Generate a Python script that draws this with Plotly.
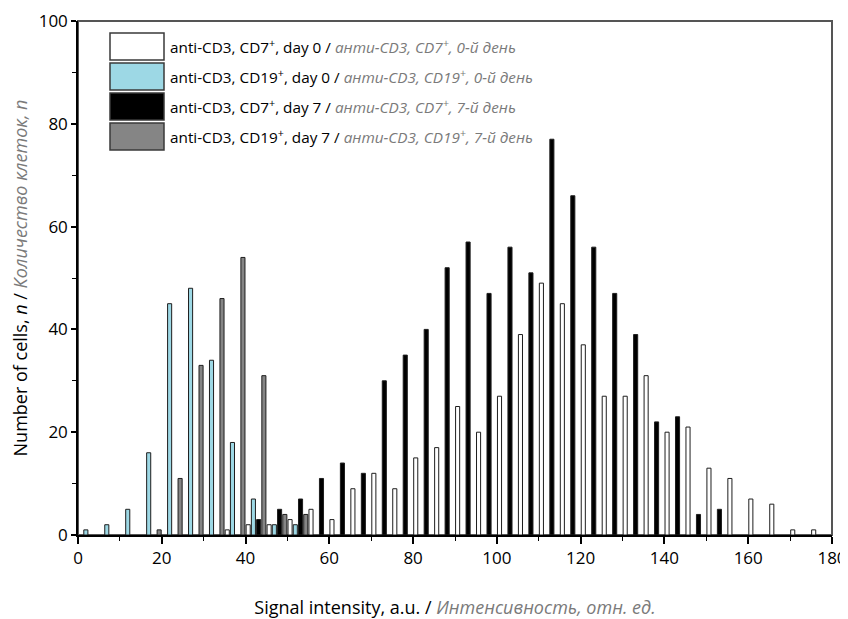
import plotly.graph_objects as go

# Bin centres (signal intensity, a.u.)
bins = [2.5, 7.5, 12.5, 17.5, 22.5, 27.5, 32.5, 37.5, 42.5, 47.5, 52.5, 57.5,
        62.5, 67.5, 72.5, 77.5, 82.5, 87.5, 92.5, 97.5, 102.5, 107.5, 112.5, 117.5,
        122.5, 127.5, 132.5, 137.5, 142.5, 147.5, 152.5, 157.5, 162.5, 167.5, 172.5, 177.5]

# anti-CD3, CD7+, day 0 (white)
cd7_day0 = [0, 0, 0, 0, 0, 0, 0, 1, 2, 2, 3, 5,
            3, 9, 12, 9, 15, 17, 25, 20, 27, 39, 49, 45,
            37, 27, 27, 31, 20, 21, 13, 11, 7, 6, 1, 1]
# anti-CD3, CD19+, day 0 (light blue)
cd19_day0 = [1, 2, 5, 16, 45, 48, 34, 18, 7, 2, 2, 0,
             0, 0, 0, 0, 0, 0, 0, 0, 0, 0, 0, 0,
             0, 0, 0, 0, 0, 0, 0, 0, 0, 0, 0, 0]
# anti-CD3, CD7+, day 7 (black)
cd7_day7 = [0, 0, 0, 0, 0, 0, 0, 0, 3, 5, 7, 11,
            14, 12, 30, 35, 40, 52, 57, 47, 56, 51, 77, 66,
            56, 47, 39, 22, 23, 4, 5, 0, 0, 0, 0, 0]
# anti-CD3, CD19+, day 7 (grey)
cd19_day7 = [0, 0, 0, 1, 11, 33, 46, 54, 31, 4, 4, 0,
             0, 0, 0, 0, 0, 0, 0, 0, 0, 0, 0, 0,
             0, 0, 0, 0, 0, 0, 0, 0, 0, 0, 0, 0]

x_ticks = [0, 20, 40, 60, 80, 100, 120, 140, 160, 180]
y_ticks = [0, 20, 40, 60, 80, 100]

series = [
    ("anti-CD3, CD7<sup>+</sup>, day 0", "анти-CD3, CD7<sup>+</sup>, 0-й день", cd7_day0, "#ffffff"),
    ("anti-CD3, CD19<sup>+</sup>, day 0", "анти-CD3, CD19<sup>+</sup>, 0-й день", cd19_day0, "#9dd8e5"),
    ("anti-CD3, CD7<sup>+</sup>, day 7", "анти-CD3, CD7<sup>+</sup>, 7-й день", cd7_day7, "#000000"),
    ("anti-CD3, CD19<sup>+</sup>, day 7", "анти-CD3, CD19<sup>+</sup>, 7-й день", cd19_day7, "#858585"),
]

FONT = "Open Sans"
RU_GREY = "#7a7a7a"

fig = go.Figure()
for en, ru, vals, col in series:
    fig.add_trace(go.Bar(
        x=bins, y=[v if v > 0 else None for v in vals],
        name=en,
        marker=dict(color=col, line=dict(color="#1e1e1e", width=1)),
        showlegend=False,
    ))

# Page has an 8px body margin; figure sized to fit the 848x619 window
OFF = 8
FIG_W, FIG_H = 848 - OFF, 619 - OFF
# plot area in page pixel coordinates
L, R, T, B = 78, 832, 21, 535
W, H = R - L, B - T
def px(xp):
    return (xp - L) / W
def py(yp):
    return (B - yp) / H

row_tops = [33, 63, 93, 123]
sw_h = 27
for (en, ru, vals, col), top in zip(series, row_tops):
    fig.add_shape(type="rect", xref="paper", yref="paper",
                  x0=px(110), x1=px(164), y0=py(top + sw_h), y1=py(top),
                  line=dict(color="#3a3a3a", width=1.5), fillcolor=col, layer="above")
    fig.add_annotation(xref="paper", yref="paper", x=px(168), y=py(top + sw_h / 2),
                       xanchor="left", yanchor="middle", showarrow=False,
                       text=f"{en} / <i><span style='color:{RU_GREY}'>{ru}</span></i>",
                       font=dict(family=FONT, size=15.3, color="#000"))

# Grey frame (top and right)
fig.add_shape(type="rect", xref="paper", yref="paper", x0=0, x1=1, y0=0, y1=1,
              line=dict(color="#555555", width=2), layer="below")

fig.update_layout(
    width=FIG_W, height=FIG_H,
    margin=dict(l=L - OFF, r=FIG_W - (R - OFF), t=T - OFF, b=FIG_H - (B - OFF)),
    paper_bgcolor="white", plot_bgcolor="white",
    barmode="group", bargap=0.0, bargroupgap=0.22,
    font=dict(family=FONT, size=17, color="#000"),
)
fig.update_xaxes(
    range=[0, 180], tickvals=x_ticks, ticktext=[str(t) for t in x_ticks],
    automargin=False,
    showgrid=False, zeroline=False,
    showline=True, linecolor="#000", linewidth=1.5,
    ticks="outside", ticklen=7, tickwidth=1.5, tickcolor="#000",
    minor=dict(dtick=10, tick0=0, ticks="outside", ticklen=4, tickwidth=1.2, tickcolor="#000"),
    tickfont=dict(family=FONT, size=17),
    title=dict(text=f"Signal intensity, a.u. / <i><span style='color:{RU_GREY}'>Интенсивность, отн. ед.</span></i>",
               font=dict(family=FONT, size=18), standoff=33),
)
fig.update_yaxes(
    range=[0, 100], tickvals=y_ticks, ticktext=[str(t) for t in y_ticks],
    automargin=False,
    showgrid=False, zeroline=False,
    showline=True, linecolor="#000", linewidth=1.5,
    ticks="outside", ticklen=5, tickwidth=1.5, tickcolor="#000",
    minor=dict(dtick=10, tick0=0, ticks="outside", ticklen=4, tickwidth=1.2, tickcolor="#000"),
    tickfont=dict(family=FONT, size=17),
    title=dict(text=f"Number of cells, <i>n</i> / <i><span style='color:{RU_GREY}'>Количество клеток, n</span></i>",
               font=dict(family=FONT, size=18), standoff=10),
)

fig.write_html("out.html")
